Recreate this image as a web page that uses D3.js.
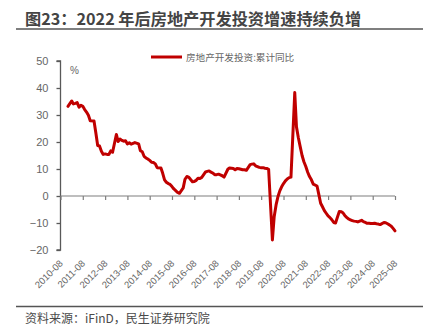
<!DOCTYPE html>
<html>
<head>
<meta charset="utf-8">
<script src="https://cdn.jsdelivr.net/npm/d3@7"></script>
<style>
  html, body { margin: 0; padding: 0; background: #fff; }
  svg { display: block; }
</style>
</head>
<body>
<svg id="chart" width="427" height="333"></svg>
<script>
// Real estate development investment, cumulative YoY (%), monthly (Jan not published)
const periods = [
  "2010-12",
  "2011-02","2011-03","2011-04","2011-05","2011-06","2011-07","2011-08","2011-09","2011-10","2011-11","2011-12",
  "2012-02","2012-03","2012-04","2012-05","2012-06","2012-07","2012-08","2012-09","2012-10","2012-11","2012-12",
  "2013-02","2013-03","2013-04","2013-05","2013-06","2013-07","2013-08","2013-09","2013-10","2013-11","2013-12",
  "2014-02","2014-03","2014-04","2014-05","2014-06","2014-07","2014-08","2014-09","2014-10","2014-11","2014-12",
  "2015-02","2015-03","2015-04","2015-05","2015-06","2015-07","2015-08","2015-09","2015-10","2015-11","2015-12",
  "2016-02","2016-03","2016-04","2016-05","2016-06","2016-07","2016-08","2016-09","2016-10","2016-11","2016-12",
  "2017-02","2017-03","2017-04","2017-05","2017-06","2017-07","2017-08","2017-09","2017-10","2017-11","2017-12",
  "2018-02","2018-03","2018-04","2018-05","2018-06","2018-07","2018-08","2018-09","2018-10","2018-11","2018-12",
  "2019-02","2019-03","2019-04","2019-05","2019-06","2019-07","2019-08","2019-09","2019-10","2019-11","2019-12",
  "2020-02","2020-03","2020-04","2020-05","2020-06","2020-07","2020-08","2020-09","2020-10","2020-11","2020-12",
  "2021-02","2021-03","2021-04","2021-05","2021-06","2021-07","2021-08","2021-09","2021-10","2021-11","2021-12",
  "2022-02","2022-03","2022-04","2022-05","2022-06","2022-07","2022-08","2022-09","2022-10","2022-11","2022-12",
  "2023-02","2023-03","2023-04","2023-05","2023-06","2023-07","2023-08","2023-09","2023-10","2023-11","2023-12",
  "2024-02","2024-03","2024-04","2024-05","2024-06","2024-07","2024-08","2024-09","2024-10","2024-11","2024-12",
  "2025-02","2025-03","2025-04","2025-05","2025-06","2025-07","2025-08"
];
const investmentYoY = [
  33.2,
  35.2, 34.1, 34.3, 34.6, 32.9, 33.6, 33.2, 32.0, 31.1, 29.9, 27.9,
  27.8, 23.5, 18.7, 18.5, 16.6, 15.4, 15.6, 15.4, 15.4, 16.7, 16.2,
  22.8, 20.2, 21.1, 20.6, 20.3, 20.5, 19.3, 19.7, 19.2, 19.5, 19.8,
  19.3, 16.8, 16.4, 14.7, 14.1, 13.7, 13.2, 12.5, 12.4, 11.9, 10.5,
  10.4, 8.5, 6.0, 5.1, 4.6, 4.3, 3.5, 2.6, 2.0, 1.3, 1.0,
  3.0, 6.2, 7.2, 7.0, 6.1, 5.3, 5.4, 5.8, 6.6, 6.5, 6.9,
  8.9, 9.1, 9.3, 8.8, 8.5, 7.9, 7.9, 8.1, 7.8, 7.5, 7.0,
  9.9, 10.4, 10.3, 10.2, 9.7, 10.2, 10.1, 9.9, 9.7, 9.7, 9.5,
  11.6, 11.8, 11.9, 11.2, 10.9, 10.6, 10.5, 10.5, 10.3, 10.2, 9.9,
  -16.3, -7.7, -3.3, -0.3, 1.9, 3.4, 4.6, 5.6, 6.3, 6.8, 7.0,
  38.3, 25.6, 21.6, 18.3, 15.0, 12.7, 10.9, 8.8, 7.2, 6.0, 4.4,
  3.7, 0.7, -2.7, -4.0, -5.4, -6.4, -7.4, -8.0, -8.8, -9.8, -10.0,
  -5.7, -5.8, -6.2, -7.2, -7.9, -8.5, -8.8, -9.1, -9.3, -9.4, -9.6,
  -9.0, -9.5, -9.8, -10.1, -10.1, -10.2, -10.2, -10.1, -10.3, -10.4, -10.6,
  -9.8, -9.9, -10.3, -10.7, -11.2, -12.0, -12.9
];
const xTickLabels = ["2010-08","2011-08","2012-08","2013-08","2014-08","2015-08","2016-08","2017-08",
  "2018-08","2019-08","2020-08","2021-08","2022-08","2023-08","2024-08","2025-08"];
const yTicks = [-20, -10, 0, 10, 20, 30, 40, 50];

const titleText = "图23：2022 年后房地产开发投资增速持续负增";
const sourceText = "资料来源：iFinD，民生证券研究院";
const seriesName = "房地产开发投资:累计同比";
const lineColor = "#C00000";
const axisColor = "#595959";
const textColor = "#666666";
const cjk = "'Noto Sans CJK SC', 'Noto Sans', sans-serif";
const latin = "'Liberation Sans', 'Noto Sans CJK SC', sans-serif";

const parse = d3.timeParse("%Y-%m");
const data = periods.map((p, i) => ({ date: parse(p), value: investmentYoY[i] }));
const tickDates = xTickLabels.map(parse);

const svg = d3.select("#chart");

const x = d3.scaleTime()
  .domain([tickDates[0], tickDates[tickDates.length - 1]])
  .range([60.5, 395]);
const y = d3.scaleLinear().domain([-20, 50]).range([250, 61]);

// Title and its rule
svg.append("text")
  .attr("x", 25).attr("y", 25)
  .attr("font-family", cjk).attr("font-size", 16.2).attr("font-weight", "bold")
  .attr("fill", "#444444")
  .text(titleText);
svg.append("line")
  .attr("x1", 16).attr("x2", 423).attr("y1", 29).attr("y2", 29)
  .attr("stroke", "#555").attr("stroke-width", 1.5);

// Y axis
const yAxis = d3.axisLeft(y).tickValues(yTicks).tickSize(4).tickPadding(8).tickFormat(d3.format("d"));
const gy = svg.append("g").attr("transform", "translate(60.5,0)").call(yAxis);
gy.select(".domain").attr("stroke", axisColor).attr("stroke-width", 1.3).attr("d", `M-4,${y(50)}H0V${y(-20)}H-4`);
gy.selectAll(".tick line").attr("stroke", axisColor).attr("stroke-width", 1.3);
gy.selectAll(".tick text").attr("fill", textColor).attr("font-family", latin).attr("font-size", 11);

// X axis on the zero line
const xAxis = d3.axisBottom(x).tickValues(tickDates).tickSize(4).tickFormat("");
const gx = svg.append("g").attr("transform", `translate(0,${y(0)})`).call(xAxis);
gx.select(".domain").attr("stroke", "#7f7f7f").attr("stroke-width", 1.2).attr("d", `M60.5,0H395`);
gx.selectAll(".tick line").attr("stroke", "#7f7f7f").attr("stroke-width", 1.2);

// Rotated date labels along the bottom
svg.append("g").selectAll("text")
  .data(tickDates)
  .join("text")
  .attr("transform", d => `translate(${x(d) + 3},${264}) rotate(-45)`)
  .attr("text-anchor", "end")
  .attr("font-family", latin).attr("font-size", 9.5)
  .attr("fill", textColor)
  .text((d, i) => xTickLabels[i]);

// Unit label
svg.append("text")
  .attr("x", 70).attr("y", 74)
  .attr("font-family", latin).attr("font-size", 10).attr("fill", textColor)
  .text("%");

// Series line
const line = d3.line().x(d => x(d.date)).y(d => y(d.value));
svg.append("path")
  .datum(data)
  .attr("d", line)
  .attr("fill", "none")
  .attr("stroke", lineColor)
  .attr("stroke-width", 3)
  .attr("stroke-linejoin", "round")
  .attr("stroke-linecap", "round");

// Legend
svg.append("line")
  .attr("x1", 151).attr("x2", 182).attr("y1", 57).attr("y2", 57)
  .attr("stroke", lineColor).attr("stroke-width", 3);
svg.append("text")
  .attr("x", 186).attr("y", 60.5)
  .attr("font-family", cjk).attr("font-size", 9.6).attr("fill", textColor)
  .text(seriesName);

// Source rule and note
svg.append("line")
  .attr("x1", 16).attr("x2", 423).attr("y1", 306.5).attr("y2", 306.5)
  .attr("stroke", "#555").attr("stroke-width", 1.5);
svg.append("text")
  .attr("x", 25).attr("y", 323)
  .attr("font-family", cjk).attr("font-size", 12).attr("fill", "#4a4a4a")
  .text(sourceText);
</script>
</body>
</html>
